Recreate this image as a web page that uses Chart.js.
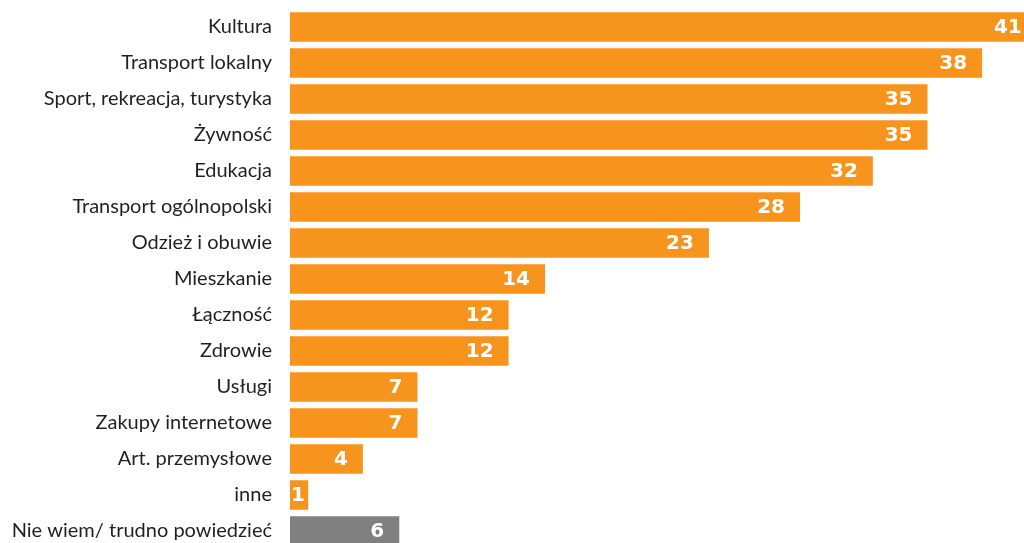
<!DOCTYPE html>
<html>
<head>
<meta charset="utf-8">
<script src="https://cdn.jsdelivr.net/npm/chart.js@4"></script>
<style>
html,body{margin:0;padding:0;background:#fff;overflow:hidden;width:1024px;height:543px;}
#wrap{position:absolute;left:0;top:0;width:1055px;height:550px;}
</style>
</head>
<body>
<div id="wrap"><canvas id="c" width="1055" height="550"></canvas></div>
<script>
const categories = ["Kultura","Transport lokalny","Sport, rekreacja, turystyka","Żywność","Edukacja","Transport ogólnopolski","Odzież i obuwie","Mieszkanie","Łączność","Zdrowie","Usługi","Zakupy internetowe","Art. przemysłowe","inne","Nie wiem/ trudno powiedzieć"];
const values = [41,38,35,35,32,28,23,14,12,12,7,7,4,1,6];
const barColors = values.map((v,i)=> i === values.length-1 ? "#808080" : "#F7941E");

const valueLabels = {
  id:'valueLabels',
  afterDatasetsDraw(chart){
    const ctx = chart.ctx;
    const meta = chart.getDatasetMeta(0);
    ctx.save();
    ctx.font = "bold 20px 'DejaVu Sans'";
    ctx.fillStyle = "#ffffff";
    ctx.textBaseline = "middle";
    ctx.textAlign = "left";
    meta.data.forEach((bar,i)=>{
      const txt = String(values[i]);
      const w = ctx.measureText(txt).width;
      let x = bar.x - 15 - w;
      if (x < bar.base + 1) x = bar.base + 1;
      ctx.fillText(txt, x, bar.y + 1);
    });
    ctx.restore();
  }
};

new Chart(document.getElementById('c'), {
  type:'bar',
  data:{labels:categories, datasets:[{data:values, backgroundColor:barColors, borderWidth:0, barPercentage:0.82, categoryPercentage:1.0}]},
  options:{
    indexAxis:'y',
    responsive:false,
    animation:false,
    layout:{padding:{top:9,bottom:1,left:0,right:0}},
    plugins:{legend:{display:false},tooltip:{enabled:false}},
    scales:{
      x:{display:false,min:0,max:42},
      y:{
        afterFit(scale){scale.width=290; scale.paddingTop=0; scale.paddingBottom=0;},
        grid:{display:false,drawTicks:false},
        border:{display:false},
        ticks:{padding:18,color:"#231f20",font:{family:"Lato",size:20},autoSkip:false}
      }
    }
  },
  plugins:[valueLabels]
});
</script>
</body>
</html>
